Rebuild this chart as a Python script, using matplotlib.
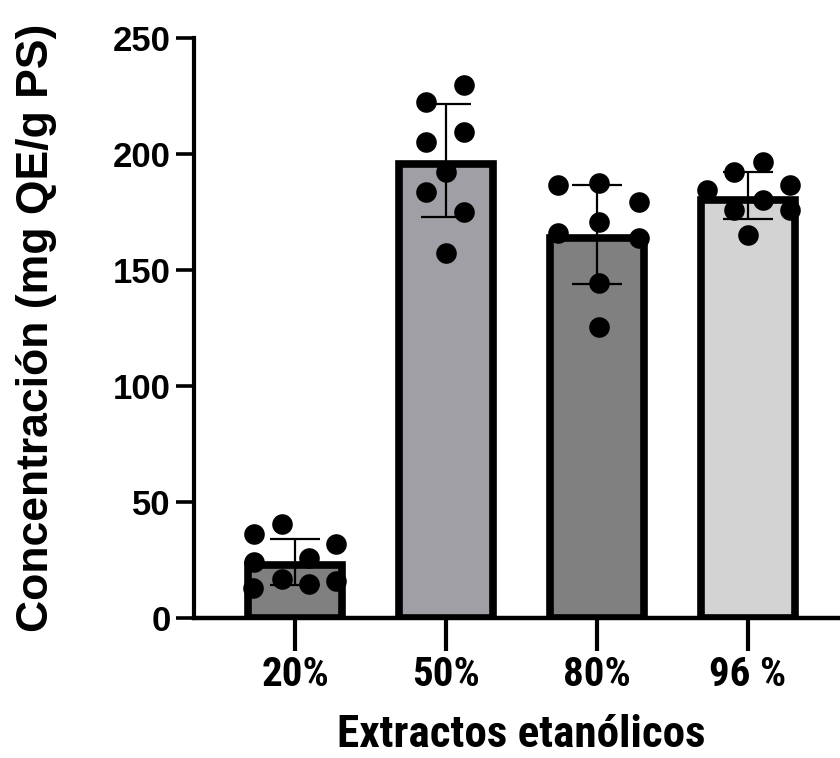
import matplotlib
matplotlib.use("Agg")
import matplotlib.pyplot as plt
import numpy as np

categories = ["20%", "50%", "80%", "96 %"]
means = [22.8, 195.5, 164.0, 180.0]
sds = [10.0, 24.4, 21.3, 10.1]
bar_colors = ["#808080", "#a09fa5", "#808080", "#d3d3d3"]

points_20 = [36.1, 40.4, 31.8, 24.3, 26.0, 16.8, 14.5, 16.0, 13.1]
points_50 = [229.7, 222.4, 209.5, 205.2, 192.2, 183.6, 175.0, 157.3]
points_80 = [186.6, 187.5, 179.3, 170.7, 165.9, 163.8, 144.4, 125.4]
points_96 = [192.2, 196.6, 184.5, 186.6, 180.2, 175.9, 175.9, 165.1]
all_points = [points_20, points_50, points_80, points_96]

# horizontal scatter offsets of the dots (fraction of category spacing)
jitter_20 = [-0.27, -0.09, 0.27, -0.27, 0.09, -0.09, 0.09, 0.27, -0.28]
jitter_50 = [0.12, -0.13, 0.12, -0.13, 0.0, -0.13, 0.12, 0.0]
jitter_80 = [-0.26, 0.01, 0.28, 0.01, -0.26, 0.28, 0.01, 0.01]
jitter_96 = [-0.09, 0.10, -0.27, 0.28, 0.10, -0.09, 0.28, 0.0]
all_jitter = [jitter_20, jitter_50, jitter_80, jitter_96]

# error bar centres (mean of the replicates)
err_centres = [24.1, 197.2, 165.3, 182.1]

yticks = [0, 50, 100, 150, 200, 250]

ARIAL = ["Liberation Sans", "DejaVu Sans"]
NARROW = ["Roboto Condensed", "PT Sans Narrow", "Liberation Sans", "DejaVu Sans"]

fig = plt.figure(figsize=(8.4, 7.58), dpi=100)
ax = fig.add_axes([194/840, 1-618/758, 1-194/840, (618-38)/758])

x = np.arange(len(categories))
ax.bar(x, means, width=0.62, color=bar_colors, edgecolor="black", linewidth=5.5, zorder=2)
ax.errorbar(x, err_centres, yerr=sds, fmt="none", ecolor="black", elinewidth=1.6,
            capsize=18, capthick=1.6, zorder=3)
for i, (pts, jit) in enumerate(zip(all_points, all_jitter)):
    ax.scatter(np.full(len(pts), x[i]) + np.array(jit), pts, s=220, color="black",
               zorder=4, clip_on=False, linewidths=0)

ax.set_xlim(-0.67, 3.61)
ax.set_ylim(0, 250)
ax.set_yticks(yticks)
ax.set_xticks(x)

for s in ["top", "right"]:
    ax.spines[s].set_visible(False)
ax.spines["left"].set_linewidth(3)
ax.spines["bottom"].set_linewidth(3.2)
ax.spines["bottom"].set_zorder(5)

ax.tick_params(axis="y", length=13, width=2.6, pad=4)
ax.tick_params(axis="x", length=24, width=3, pad=3)

for lbl in ax.get_yticklabels():
    lbl.set_fontfamily(ARIAL)
    lbl.set_fontweight("bold")
    lbl.set_fontsize(25)
ax.set_xticklabels(categories, family=NARROW, fontweight="bold", fontsize=29.5)

ax.set_ylabel("Concentración (mg QE/g PS)", family=ARIAL, fontweight="bold", fontsize=32)
ax.yaxis.set_label_coords(-0.212, 0.5)
ax.set_xlabel("Extractos etanólicos", family=NARROW, fontweight="bold", fontsize=32.5)
ax.xaxis.label.set_va("bottom")
ax.xaxis.set_label_coords(0.507, -0.2385)

fig.savefig("out.png", dpi=100)
